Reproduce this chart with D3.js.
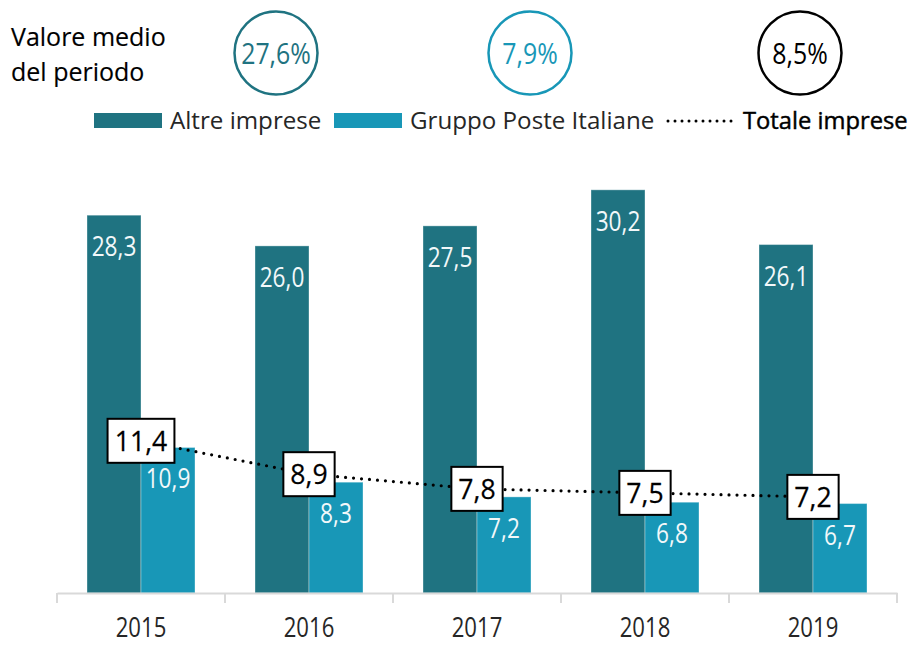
<!DOCTYPE html>
<html>
<head>
<meta charset="utf-8">
<script src="https://cdn.jsdelivr.net/npm/d3@7"></script>
<style>
    html, body { margin: 0; padding: 0; background: #ffffff; }
    svg { display: block; font-family: "Open Sans", "Noto Sans", sans-serif; }
</style>
</head>
<body>
<div id="chart"></div>
<script>
'use strict';

// Data
const years = ["2015", "2016", "2017", "2018", "2019"];
const seriesNames = ["Altre imprese", "Gruppo Poste Italiane"];
const altreImprese = [28.3, 26.0, 27.5, 30.2, 26.1];
const gruppoPoste = [10.9, 8.3, 7.2, 6.8, 6.7];
const totaleImprese = [11.4, 8.9, 7.8, 7.5, 7.2];
const lineName = "Totale imprese";
const averageLabels = ["Valore medio", "del periodo"];
const averages = [27.6, 7.9, 8.5];

const width = 916, height = 645;
const colors = { dark: "#1f7381", light: "#1897b7", line: "#000000", axis: "#d9d9d9" };

const it = d3.formatLocale({ decimal: ",", thousands: ".", grouping: [3], currency: ["€", ""] });
const fmt = it.format(".1f");

const svg = d3.select("#chart").append("svg")
    .attr("width", width)
    .attr("height", height);

// squeeze text horizontally (the original labels are narrow)
function place(sel, x, y, sx) {
    return sel.attr("transform", (d, i) => `translate(${typeof x === "function" ? x(d, i) : x},${typeof y === "function" ? y(d, i) : y}) scale(${sx},1)`);
}

// Scales
const x = d3.scaleBand()
    .domain(years)
    .range([57, 897])
    .padding(0);

const xSub = d3.scaleBand()
    .domain(seriesNames)
    .range([0, x.bandwidth()])
    .paddingInner(0)
    .paddingOuter(0.5556);

const y = d3.scaleLinear()
    .domain([0, 40])
    .range([593, 59]);

const rows = years.map((yr, i) => ({
    year: yr,
    values: [
        { key: seriesNames[0], value: altreImprese[i] },
        { key: seriesNames[1], value: gruppoPoste[i] }
    ],
    total: totaleImprese[i]
}));

const barColor = d => d.key === seriesNames[0] ? colors.dark : colors.light;

// Bars
const groups = svg.append("g").selectAll("g")
    .data(rows)
    .join("g")
    .attr("transform", d => `translate(${x(d.year)},0)`);

groups.selectAll("rect")
    .data(d => d.values)
    .join("rect")
    .attr("x", d => xSub(d.key))
    .attr("y", d => y(d.value))
    .attr("width", xSub.bandwidth())
    .attr("height", d => y(0) - y(d.value))
    .attr("fill", barColor)
    .attr("stroke", "rgba(255,255,255,0.35)")
    .attr("stroke-width", 1);

groups.selectAll("text.bar-label")
    .data(d => d.values)
    .join("text")
    .classed("bar-label", true)
    .call(place, d => xSub(d.key) + xSub.bandwidth() / 2, d => y(d.value) + 41, 0.84)
    .attr("text-anchor", "middle")
    .attr("font-size", 27)
    .attr("fill", "#f2f8fa")
    .text(d => fmt(d.value));

// Axis
const axis = svg.append("g")
    .attr("transform", `translate(0,${y(0)})`)
    .call(d3.axisBottom(x).tickSize(0).tickFormat(""));
axis.select(".domain").attr("stroke", colors.axis).attr("stroke-width", 2);
axis.selectAll(".tick").remove();

svg.append("g").selectAll("line")
    .data([...years.map(d => x(d)), x.range()[1]])
    .join("line")
    .attr("x1", d => d).attr("x2", d => d)
    .attr("y1", y(0)).attr("y2", y(0) + 10)
    .attr("stroke", colors.axis)
    .attr("stroke-width", 2);

svg.append("g").selectAll("text")
    .data(years)
    .join("text")
    .call(place, d => x(d) + x.bandwidth() / 2, 637, 0.82)
    .attr("text-anchor", "middle")
    .attr("font-size", 27)
    .attr("fill", "#262626")
    .text(d => d);

// Totale line
const line = d3.line()
    .x(d => x(d.year) + x.bandwidth() / 2)
    .y(d => y(d.total));

svg.append("path")
    .datum(rows)
    .attr("d", line)
    .attr("fill", "none")
    .attr("stroke", colors.line)
    .attr("stroke-width", 3.2)
    .attr("stroke-linecap", "round")
    .attr("stroke-dasharray", "0 8");

const boxes = svg.append("g").selectAll("g")
    .data(rows)
    .join("g")
    .attr("transform", d => `translate(${x(d.year) + x.bandwidth() / 2},${y(d.total)})`);

const boxRect = boxes.append("rect");
const boxText = boxes.append("text")
    .call(place, 0, 10, 0.95)
    .attr("text-anchor", "middle")
    .attr("font-size", 28)
    .attr("fill", "#000")
    .attr("stroke", "#000")
    .attr("stroke-width", 0.25)
    .text(d => fmt(d.total));

boxText.each(function (d) {
    d.w = this.getBBox().width * 0.95 + 14;
});
boxRect
    .attr("x", d => -d.w / 2)
    .attr("y", -22)
    .attr("width", d => d.w)
    .attr("height", 44)
    .attr("fill", "#fff")
    .attr("stroke", "#000")
    .attr("stroke-width", 2);

// Header: average of the period
svg.append("g").selectAll("text")
    .data(averageLabels)
    .join("text")
    .attr("x", 11)
    .attr("y", (d, i) => 46 + i * 35)
    .attr("font-size", 25)
    .attr("fill", "#000")
    .attr("stroke", "#000")
    .attr("stroke-width", 0.15)
    .text(d => d);

const circleX = [276, 530, 800];
const circleColors = [colors.dark, colors.light, "#000"];

const circles = svg.append("g").selectAll("g")
    .data(averages)
    .join("g")
    .attr("transform", (d, i) => `translate(${circleX[i]},53)`);

circles.append("circle")
    .attr("r", 41.5)
    .attr("fill", "none")
    .attr("stroke", (d, i) => circleColors[i])
    .attr("stroke-width", 2.5);

circles.append("text")
    .call(place, 0, 11, 0.83)
    .attr("text-anchor", "middle")
    .attr("font-size", 30)
    .attr("fill", (d, i) => circleColors[i])
    .text(d => fmt(d) + "%");

// Legend
const legend = svg.append("g");
const legendX = [94, 334];

legend.selectAll("rect")
    .data(seriesNames)
    .join("rect")
    .attr("x", (d, i) => legendX[i])
    .attr("y", 113)
    .attr("width", 68)
    .attr("height", 15)
    .attr("fill", (d, i) => i === 0 ? colors.dark : colors.light);

legend.selectAll("text.series")
    .data(seriesNames)
    .join("text")
    .classed("series", true)
    .call(place, (d, i) => legendX[i] + 76, 129, 1.05)
    .attr("font-size", 23)
    .attr("fill", "#262626")
    .text(d => d);

legend.append("line")
    .attr("x1", 668).attr("x2", 736)
    .attr("y1", 121).attr("y2", 121)
    .attr("stroke", colors.line)
    .attr("stroke-width", 3)
    .attr("stroke-linecap", "round")
    .attr("stroke-dasharray", "0 7");

legend.append("text")
    .call(place, 743, 129, 1.01)
    .attr("font-size", 23.5)
    .attr("fill", "#000")
    .attr("stroke", "#000")
    .attr("stroke-width", 0.45)
    .text(lineName);
</script>
</body>
</html>
